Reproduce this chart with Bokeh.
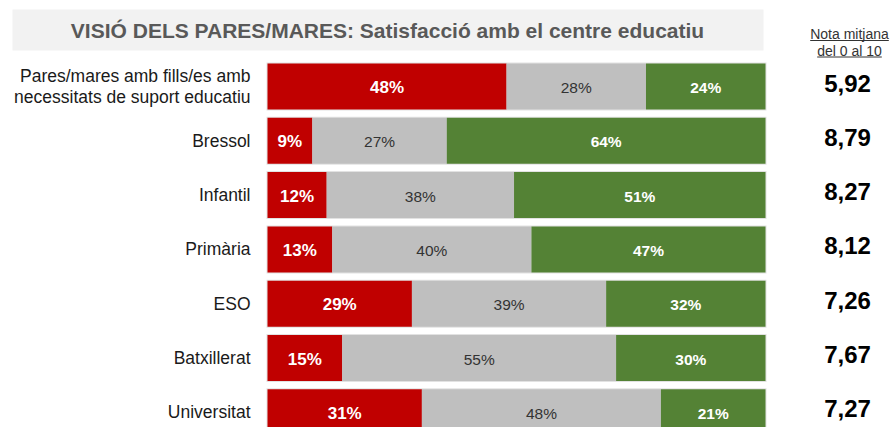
from bokeh.plotting import figure
from bokeh.models import Range1d, ColumnDataSource
from bokeh.core.properties import value
from bokeh.embed import file_html
from bokeh.resources import INLINE

# ---------------- data ----------------
categories = [
    "Pares/mares amb fills/es amb\nnecessitats de suport educatiu",
    "Bressol", "Infantil", "Primària", "ESO", "Batxillerat", "Universitat",
]
insatisfets = [48, 9, 12, 13, 29, 15, 31]
neutres = [28, 27, 38, 40, 39, 55, 48]
satisfets = [24, 64, 51, 47, 32, 30, 21]
notes = [5.92, 8.79, 8.27, 8.12, 7.26, 7.67, 7.27]

title_text = "VISIÓ DELS PARES/MARES: Satisfacció amb el centre educatiu"
nota_header = ["Nota mitjana", "del 0 al 10"]

RED, GREY, GREEN = "#C00000", "#BFBFBF", "#548235"
FONT = "Liberation Sans"

# ---------------- layout (page pixels -> data) ----------------
W, H = 892, 427
ORIGIN = 0                      # page position of the figure's top-left corner
X0, PX_PER_PCT = 267, 4.98      # page x of 0 %, pixels per percent
ROW0, PITCH = 86, 54.3          # page y of first row centre, row pitch


def dx(px):
    return (px - X0) / PX_PER_PCT


def dy(py):
    return (py - ROW0) / PITCH


p = figure(width=W, height=H, output_backend="svg", toolbar_location=None,
           x_range=Range1d(dx(ORIGIN), dx(ORIGIN + W)),
           y_range=Range1d(dy(ORIGIN + H), dy(ORIGIN)),
           min_border=0, min_border_left=0, min_border_right=0,
           min_border_top=0, min_border_bottom=0)
p.axis.visible = False
p.grid.visible = False
p.outline_line_color = None
p.background_fill_color = "white"
p.border_fill_color = "white"

# title box
p.quad(left=[dx(12)], right=[dx(763)], top=[dy(9)], bottom=[dy(50)],
       fill_color="#F2F2F2", line_color=None)
p.text(x=[dx(387)], y=[dy(30)], text=[title_text], text_font=value(FONT),
       text_font_style="bold", text_font_size="21px", text_color="#595959",
       text_align="center", text_baseline="middle")

# header on the right
p.text(x=[dx(849), dx(849)], y=[dy(33.5), dy(50)], text=nota_header,
       text_font=value(FONT), text_font_size="14px", text_color="#333333",
       text_align="center", text_baseline="middle")
hw = [78.6 / 2, 64.6 / 2]
p.segment(x0=[dx(849 - hw[0]), dx(849 - hw[1])], x1=[dx(849 + hw[0]), dx(849 + hw[1])],
          y0=[dy(40), dy(56.5)], y1=[dy(40), dy(56.5)], line_color="#333333", line_width=1)

# ---------------- bars ----------------
rows = list(range(len(categories)))
lefts, rights, colors, labels, lx, ly, lcol, lsize, lstyle = [], [], [], [], [], [], [], [], []
for r in rows:
    vals = [insatisfets[r], neutres[r], satisfets[r]]
    tot = sum(vals)
    acc = 0.0
    for k, v in enumerate(vals):
        w = v * 100.0 / tot
        lefts.append(acc)
        rights.append(acc + w)
        colors.append([RED, GREY, GREEN][k])
        lx.append(acc + w / 2)
        ly.append(r + 1 / PITCH)
        labels.append(f"{v}%")
        lcol.append("#333333" if k == 1 else "white")
        lsize.append(["17px", "15.5px", "15.5px"][k])
        lstyle.append("normal" if k == 1 else "bold")
        acc += w

bh = 46 / PITCH
# subtle light border round each bar
p.hbar(y=rows, left=[-1 / PX_PER_PCT] * len(rows), right=[100 + 1 / PX_PER_PCT] * len(rows),
       height=bh + 2 / PITCH, fill_color="#E2E2E2", line_color=None)

seg_src = ColumnDataSource(dict(y=[r for r in rows for _ in range(3)], left=lefts,
                                right=rights, color=colors))
p.hbar(y="y", left="left", right="right", height=bh, fill_color="color",
       line_color=None, source=seg_src)

lab_src = ColumnDataSource(dict(x=lx, y=ly, text=labels, color=lcol, size=lsize, style=lstyle))
p.text(x="x", y="y", text="text", text_color="color", text_font_size="size",
       text_font_style="style", text_font=value(FONT), text_align="center",
       text_baseline="middle", source=lab_src)

# category labels
p.text(x=[0] * len(rows), y=rows, text=categories, x_offset=-17,
       text_font=value(FONT), text_font_size="17.5px", text_color="#1A1A1A",
       text_align="right", text_baseline="middle", text_line_height=1.05)

# mean scores
p.text(x=[dx(847)] * len(rows), y=[r - 3.5 / PITCH for r in rows],
       text=[f"{n:.2f}".replace(".", ",") for n in notes],
       text_font=value(FONT), text_font_style="bold", text_font_size="24px",
       text_color="#000000", text_align="center", text_baseline="middle")

open("out.html", "w").write(file_html(p, INLINE))
